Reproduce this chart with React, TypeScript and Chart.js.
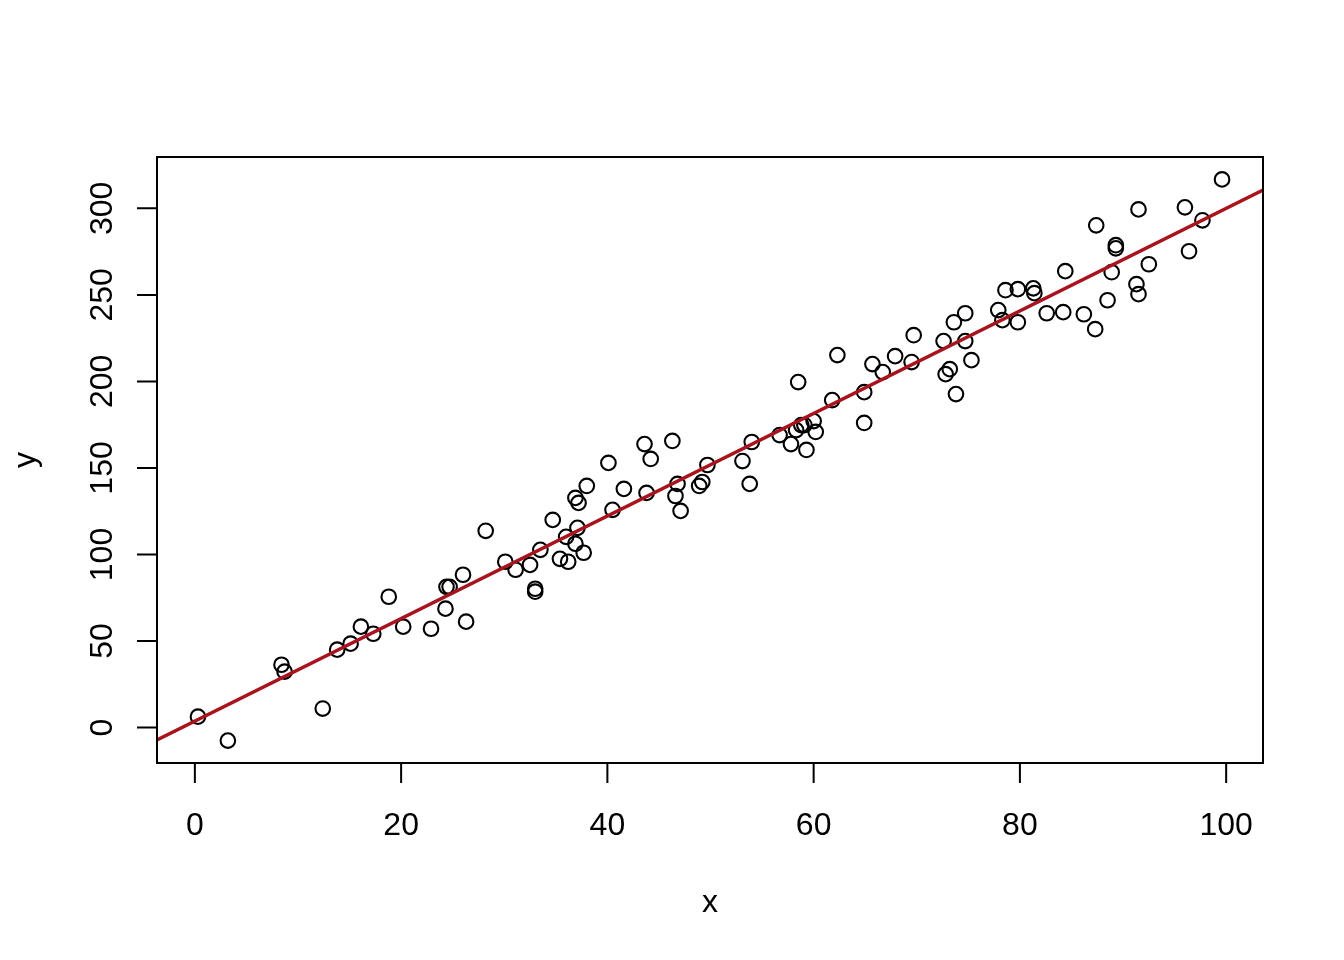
import { useEffect, useRef } from 'react'
import { Chart, registerables } from 'chart.js'

Chart.register(...registerables)

// values
const xs = [
  0.3, 3.2, 8.4, 8.7, 12.4, 13.8, 15.1, 16.1, 17.3, 18.8,
  20.2, 22.9, 24.3, 24.4, 24.7, 26.0, 26.3, 28.2, 30.1, 31.1,
  32.5, 33.0, 33.0, 33.5, 34.7, 35.4, 36.0, 36.2, 36.9, 36.9,
  37.1, 37.2, 37.7, 38.0, 40.1, 40.5, 41.6, 43.6, 43.8, 44.2,
  46.3, 46.6, 46.8, 47.1, 48.9, 49.2, 49.7, 53.1, 53.8, 54.0,
  56.7, 57.8, 58.3, 58.5, 58.8, 59.1, 59.3, 60.0, 60.2, 61.8,
  62.3, 64.9, 64.9, 65.7, 66.7, 67.9, 69.5, 69.7, 72.6, 72.8,
  73.2, 73.6, 73.8, 74.7, 74.7, 75.3, 77.9, 78.3, 78.6, 79.8,
  79.8, 81.3, 81.4, 82.6, 84.2, 84.4, 86.2, 87.3, 87.4, 88.5,
  88.9, 89.3, 89.3, 91.3, 91.5, 91.5, 92.5, 96.0, 96.4, 97.7,
  99.6,
]
const ys = [
  6.3, -7.5, 36.3, 32.3, 11.0, 45.0, 48.5, 58.3, 54.2, 75.6,
  58.3, 57.1, 68.7, 81.3, 81.3, 88.3, 61.2, 113.7, 95.8, 91.2,
  94.0, 80.2, 78.5, 102.7, 120.0, 97.5, 110.2, 95.8, 106.2, 132.7,
  115.4, 129.8, 101.0, 139.6, 152.9, 125.8, 137.9, 163.8, 135.6, 155.2,
  165.6, 133.8, 140.8, 125.2, 139.6, 141.9, 151.7, 154.0, 140.8, 165.0,
  169.0, 163.8, 171.9, 199.6, 174.8, 174.8, 160.4, 177.1, 170.8, 189.2,
  215.2, 176.0, 193.8, 210.0, 205.4, 214.6, 211.2, 226.7, 223.3, 204.2,
  207.1, 234.2, 192.7, 239.4, 223.3, 212.3, 241.2, 235.4, 252.7, 253.3,
  234.2, 253.8, 251.0, 239.4, 240.0, 263.7, 238.8, 230.2, 290.2, 246.9,
  263.1, 278.7, 276.9, 256.2, 299.4, 250.4, 267.7, 300.6, 275.2, 293.1,
  316.7,
]
const xTicks = [0, 20, 40, 60, 80, 100]
const yTicks = [0, 50, 100, 150, 200, 250, 300]
const fitIntercept = 3.7
const fitSlope = 2.963

const FONT = '32px "Liberation Sans", Arial, Helvetica, sans-serif'

// R style: pad data range by 4% on each side
const pad = (v: number[]) => {
  const lo = Math.min(...v)
  const hi = Math.max(...v)
  const r = hi - lo
  return [lo - 0.04 * r, hi + 0.04 * r]
}

const baseAxes = {
  id: 'baseAxes',
  afterDraw(chart: any) {
    const { ctx, chartArea: a, scales } = chart
    const sx = scales.x
    const sy = scales.y
    ctx.save()
    ctx.strokeStyle = '#000'
    ctx.fillStyle = '#000'
    ctx.lineWidth = 2
    ctx.strokeRect(a.left, a.top, a.right - a.left, a.bottom - a.top)

    // x axis
    const x0 = sx.getPixelForValue(xTicks[0])
    const x1 = sx.getPixelForValue(xTicks[xTicks.length - 1])
    ctx.beginPath()
    ctx.moveTo(x0, a.bottom)
    ctx.lineTo(x1, a.bottom)
    xTicks.forEach(t => {
      const px = sx.getPixelForValue(t)
      ctx.moveTo(px, a.bottom)
      ctx.lineTo(px, a.bottom + 20)
    })
    ctx.stroke()
    ctx.font = FONT
    ctx.textAlign = 'center'
    ctx.textBaseline = 'alphabetic'
    xTicks.forEach(t => ctx.fillText(String(t), sx.getPixelForValue(t), a.bottom + 72))
    ctx.fillText('x', (a.left + a.right) / 2, a.bottom + 149)

    // y axis
    const y0 = sy.getPixelForValue(yTicks[0])
    const y1 = sy.getPixelForValue(yTicks[yTicks.length - 1])
    ctx.beginPath()
    ctx.moveTo(a.left, y0)
    ctx.lineTo(a.left, y1)
    yTicks.forEach(t => {
      const py = sy.getPixelForValue(t)
      ctx.moveTo(a.left, py)
      ctx.lineTo(a.left - 20, py)
    })
    ctx.stroke()
    yTicks.forEach(t => {
      ctx.save()
      ctx.translate(a.left - 45, sy.getPixelForValue(t))
      ctx.rotate(-Math.PI / 2)
      ctx.fillText(String(t), 0, 0)
      ctx.restore()
    })
    ctx.save()
    ctx.translate(35, (a.top + a.bottom) / 2)
    ctx.rotate(-Math.PI / 2)
    ctx.fillText('y', 0, 0)
    ctx.restore()
    ctx.restore()
  },
}

export default function App() {
  const canvasRef = useRef<HTMLCanvasElement>(null)

  useEffect(() => {
    document.body.style.margin = '0'
    if (!canvasRef.current) return
    const [xMin, xMax] = pad(xs)
    const [yMin, yMax] = pad(ys)

    const chart = new Chart(canvasRef.current, {
      type: 'scatter',
      data: {
        datasets: [
          {
            type: 'line',
            data: [
              { x: xMin, y: fitIntercept + fitSlope * xMin },
              { x: xMax, y: fitIntercept + fitSlope * xMax },
            ],
            borderColor: '#A8141E',
            borderWidth: 3.4,
            pointRadius: 0,
            fill: false,
          },
          {
            data: xs.map((x, i) => ({ x, y: ys[i] })),
            pointRadius: 7.3,
            pointBorderWidth: 2.1,
            pointBorderColor: '#000',
            pointBackgroundColor: 'rgba(0,0,0,0)',
          },
        ],
      } as any,
      options: {
        responsive: false,
        animation: false,
        events: [],
        layout: { padding: { left: 157, right: 81, top: 157, bottom: 197 } },
        plugins: { legend: { display: false }, tooltip: { enabled: false } },
        scales: {
          x: { type: 'linear', min: xMin, max: xMax, display: false },
          y: { type: 'linear', min: yMin, max: yMax, display: false },
        },
      },
      plugins: [baseAxes],
    })

    return () => chart.destroy()
  }, [])

  return (
    <div style={{ width: 1344, height: 960, background: '#fff' }}>
      <canvas ref={canvasRef} width={1344} height={960} />
    </div>
  )
}
